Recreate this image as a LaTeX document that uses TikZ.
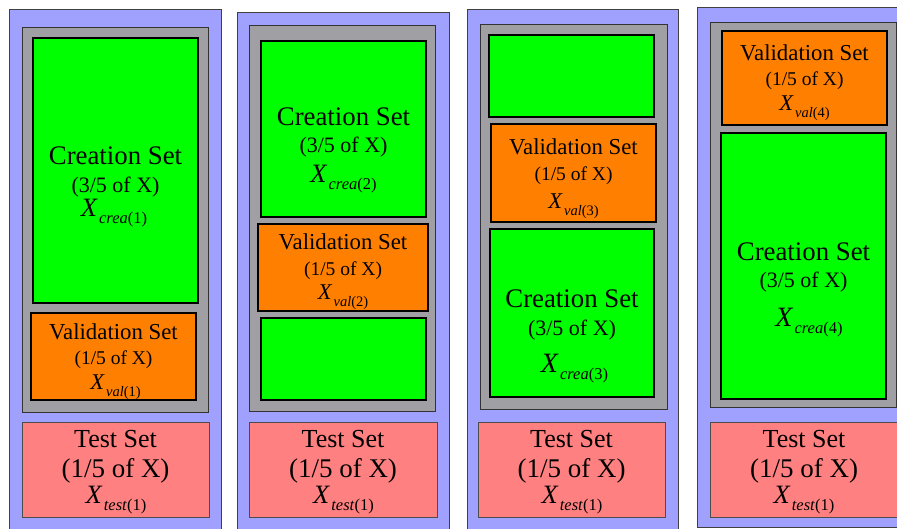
\documentclass[tikz,border=0pt]{standalone}
\usepackage{fontspec}
\setmainfont{Liberation Serif}
\usetikzlibrary{fit}
\definecolor{bluep}{HTML}{A0A0FF}
\definecolor{greyc}{HTML}{A0A0A4}
\definecolor{greenc}{HTML}{00FF00}
\definecolor{orangec}{HTML}{FF8000}
\definecolor{redc}{HTML}{FF8080}
\newcommand{\Xsub}[4]{{\fontsize{#1}{#1}\selectfont\rmfamily\itshape X}\kern2pt\raisebox{-7pt}{\fontsize{#2}{#2}\selectfont\rmfamily\textit{#3}(#4)}}
\tikzset{
  panel/.style={draw=black!75, fill=bluep, line width=0.8pt, inner sep=0pt},
  greybox/.style={draw=black!80, fill=greyc, line width=0.8pt, inner sep=0pt},
  creabox/.style={draw=black, fill=greenc, line width=1.2pt, inner sep=0pt},
  valbox/.style={draw=black, fill=orangec, line width=1.2pt, inner sep=0pt},
  testbox/.style={draw=black!70, fill=redc, line width=0.8pt, inner sep=0pt},
  txt/.style={anchor=base, inner sep=0pt},
  ctitle/.style={txt, text height=17pt, text depth=3pt, font=\rmfamily\fontsize{26.8}{26.8}\selectfont},
  cfrac/.style={txt, text height=15pt, text depth=4pt, font=\rmfamily\fontsize{22}{22}\selectfont},
  vtitle/.style={txt, text height=16pt, text depth=3pt, font=\rmfamily\fontsize{22.8}{22.8}\selectfont},
  vfrac/.style={txt, text height=13pt, text depth=3pt, font=\rmfamily\fontsize{19.5}{19.5}\selectfont},
  ttitle/.style={txt, text height=17pt, text depth=3pt, font=\rmfamily\fontsize{26}{26}\selectfont},
  tfrac/.style={txt, text height=17pt, text depth=4pt, font=\rmfamily\fontsize{27}{27}\selectfont},
  xlab/.style={txt, text height=15pt, text depth=10pt},
}
\begin{document}
\begin{tikzpicture}[x=1pt,y=-1pt]
\useasboundingbox (0,0) rectangle (897,529);
\fill[white] (0,0) rectangle (897,529);
% ---------- column 1
\node[panel, fit={(9,9) (221,545)}] (p1) {};
\node[greybox, fit={(22,27) (208,412)}] (g1) {};
\node[creabox, fit={(33,38) (198,303)}] (c1) {};
\node[valbox, fit={(31,313) (196,400)}] (v1) {};
\node[testbox, fit={(22,422) (209,517)}] (t1) {};
\node[ctitle] (c1a) at (115.5,165) {Creation Set};
\node[cfrac] (c1b) at (115.5,193) {(3/5 of X)};
\node[xlab] (c1c) at (114,217) {\Xsub{26.5}{16.5}{crea}{1}};
\node[vtitle] (v1a) at (113.5,339) {Validation Set};
\node[vfrac] (v1b) at (113.5,364) {(1/5 of X)};
\node[xlab] (v1c) at (115.5,389) {\Xsub{22.5}{14.5}{val}{1}};
\node[ttitle] (t1a) at (115.5,447) {Test Set};
\node[tfrac] (t1b) at (115.5,477) {(1/5 of X)};
\node[xlab] (t1c) at (116,503) {\Xsub{26.5}{16.5}{test}{1}};
% ---------- column 2
\node[panel, fit={(237,12) (449,545)}] (p2) {};
\node[greybox, fit={(249,25) (435,411)}] (g2) {};
\node[creabox, fit={(261,41) (426,217)}] (c2) {};
\node[valbox, fit={(258,224) (428,311)}] (v2) {};
\node[creabox, fit={(261,318) (426,400)}] (c2b) {};
\node[testbox, fit={(249,422) (437,517)}] (t2) {};
\node[ctitle] (c2a) at (343.5,125.5) {Creation Set};
\node[cfrac] (c2bb) at (343.5,153) {(3/5 of X)};
\node[xlab] (c2c) at (343.5,182.5) {\Xsub{26.5}{16.5}{crea}{2}};
\node[vtitle] (v2a) at (343,250) {Validation Set};
\node[vfrac] (v2b) at (343,276) {(1/5 of X)};
\node[xlab] (v2c) at (343,299.5) {\Xsub{22.5}{14.5}{val}{2}};
\node[ttitle] (t2a) at (343,447) {Test Set};
\node[tfrac] (t2b) at (343,477) {(1/5 of X)};
\node[xlab] (t2c) at (343.5,503) {\Xsub{26.5}{16.5}{test}{1}};
% ---------- column 3
\node[panel, fit={(467,9) (678,545)}] (p3) {};
\node[greybox, fit={(480,24) (667,409)}] (g3) {};
\node[creabox, fit={(489,35) (654,117)}] (c3a0) {};
\node[valbox, fit={(491,124) (656,222)}] (v3) {};
\node[creabox, fit={(490,229) (654,397)}] (c3) {};
\node[testbox, fit={(478,422) (665,517)}] (t3) {};
\node[vtitle] (v3a) at (573.5,155) {Validation Set};
\node[vfrac] (v3b) at (573.5,181) {(1/5 of X)};
\node[xlab] (v3c) at (573.5,208.5) {\Xsub{22.5}{14.5}{val}{3}};
\node[ctitle] (c3a) at (572,308) {Creation Set};
\node[cfrac] (c3b) at (572,336) {(3/5 of X)};
\node[xlab] (c3c) at (574.5,372) {\Xsub{28}{16.5}{crea}{3}};
\node[ttitle] (t3a) at (571.5,447) {Test Set};
\node[tfrac] (t3b) at (571.5,477) {(1/5 of X)};
\node[xlab] (t3c) at (572,503) {\Xsub{26.5}{16.5}{test}{1}};
% ---------- column 4
\node[panel, fit={(697,7) (910,527)}] (p4) {};
\node[greybox, fit={(710,22) (896,407)}] (g4) {};
\node[valbox, fit={(722,31) (887,125)}] (v4) {};
\node[creabox, fit={(721,133) (886,399)}] (c4) {};
\node[testbox, fit={(710,422) (898,517)}] (t4) {};
\node[vtitle] (v4a) at (804.5,61) {Validation Set};
\node[vfrac] (v4b) at (804.5,86) {(1/5 of X)};
\node[xlab] (v4c) at (804.5,111) {\Xsub{22.5}{14.5}{val}{4}};
\node[ctitle] (c4a) at (803.5,261) {Creation Set};
\node[cfrac] (c4b) at (803.5,288) {(3/5 of X)};
\node[xlab] (c4c) at (809,326.5) {\Xsub{28}{16.5}{crea}{4}};
\node[ttitle] (t4a) at (804,447) {Test Set};
\node[tfrac] (t4b) at (804,477) {(1/5 of X)};
\node[xlab] (t4c) at (804,503) {\Xsub{26.5}{16.5}{test}{1}};
\end{tikzpicture}
\end{document}
